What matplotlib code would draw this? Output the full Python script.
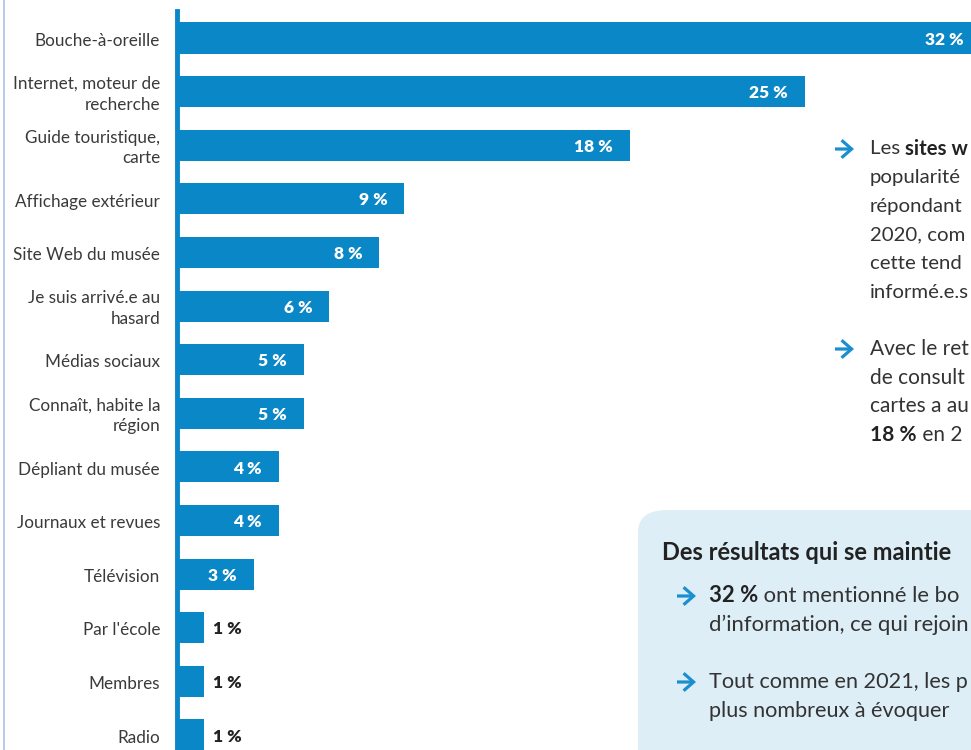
import matplotlib
matplotlib.use("Agg")
import matplotlib.pyplot as plt
from matplotlib.patches import FancyBboxPatch, FancyArrowPatch
import numpy as np

plt.rcParams['font.family'] = ['Lato', 'DejaVu Sans']

sources = ["Bouche-à-oreille", "Internet, moteur de\nrecherche", "Guide touristique,\ncarte",
           "Affichage extérieur", "Site Web du musée", "Je suis arrivé.e au\nhasard",
           "Médias sociaux", "Connaît, habite la\nrégion", "Dépliant du musée",
           "Journaux et revues", "Télévision", "Par l'école", "Membres", "Radio"]
pcts = [32, 25, 18, 9, 8, 6, 5, 5, 4, 4, 3, 1, 1, 1]

blue = '#0a87c6'
dark = '#222222'
grey = '#3a3a3a'

W, H = 971, 750
fig = plt.figure(figsize=(W / 100, H / 100), dpi=100)

# axes placed in pixel terms: x=0 at px 179, 25.04 px per percent
x0, ppx = 179, 25.04
ax = fig.add_axes([x0 / W, 0, 1 - x0 / W, (H - 11) / H])
ax.set_xlim(0, (W - x0) / ppx)
step = 53.6
ax.set_ylim(13 + 15 / step, -(38 - 11) / step)
ax.axis('off')

y = np.arange(len(pcts))
ax.barh(y, pcts, height=0.58, color=blue, clip_on=True)

for i, (lab, v) in enumerate(zip(sources, pcts)):
    ax.text(-19 / ppx, i + 0.05, lab, ha='right', va='center', fontsize=12.3,
            color=grey, linespacing=1.35)
    if v >= 3:
        ax.text(v - 17 / ppx, i + 0.03, f"{v} %", ha='right', va='center',
                fontsize=12.5, fontweight='heavy', color='white')
    else:
        ax.text(v + 9 / ppx, i + 0.03, f"{v} %", ha='left', va='center',
                fontsize=12.5, fontweight='heavy', color=dark)

# vertical axis line and thin left border
fig.add_artist(plt.Line2D([176.5 / W] * 2, [0, (H - 11) / H], color=blue, lw=3.5))
fig.add_artist(plt.Line2D([3.5 / W] * 2, [0, 1], color='#a9c1e6', lw=1.2))

# light-blue box
box = FancyBboxPatch((638 / W, -0.1), 0.5, (H - 510) / H + 0.1,
                     boxstyle="round,pad=0,rounding_size=0.03",
                     transform=fig.transFigure, fc='#ddeef7', ec='none', zorder=0)
fig.add_artist(box)

renderer = fig.canvas.get_renderer()
body = '#333333'


def draw_line(xpx, ypx, parts, size):
    x = xpx
    made = []
    for txt, bold in parts:
        t = fig.text(x / W, 1 - ypx / H, txt, fontsize=size, va='center', ha='left',
                     color=dark if bold else body,
                     fontweight='bold' if bold else 'normal')
        made.append(t)
        x += t.get_window_extent(renderer).width
    return made, x


def block(xpx, ypx, lines, size, gap=28.7):
    # one common size for the block, shrunk a little if a line would run off the page
    while size > 10:
        widest = 0
        for parts in lines:
            made, x = draw_line(xpx, ypx, parts, size)
            widest = max(widest, x)
            for t in made:
                t.remove()
        if widest <= W - 2:
            break
        size -= 0.1
    for k, parts in enumerate(lines):
        draw_line(xpx, ypx + k * gap, parts, size)


def arrow(xpx, ypx):
    fig.add_artist(FancyArrowPatch(
        (xpx / W, 1 - ypx / H), ((xpx + 19) / W, 1 - ypx / H),
        transform=fig.transFigure, arrowstyle='->,head_length=0.4,head_width=0.35',
        mutation_scale=18, lw=2.3, color='#1a8fd0', shrinkA=0, shrinkB=0,
        joinstyle='miter', capstyle='butt'))


arrow(835, 149)
block(870, 149, [[("Les ", False), ("sites w", True)],
                 [("popularité", False)],
                 [("répondant", False)],
                 [("2020, com", False)],
                 [("cette tend", False)],
                 [("informé.e.s", False)]], 15.8)

arrow(835, 349)
block(870, 349, [[("Avec le ret", False)],
                 [("de consult", False)],
                 [("cartes a au", False)],
                 [("18 %", True), (" en 2", False)]], 15.8)

fig.text(662 / W, 1 - 552 / H, "Des résultats qui se maintie", fontsize=17,
         fontweight='bold', color=dark, va='center', ha='left')
arrow(677, 596)
block(709, 596, [[("32 %", True), (" ont mentionné le bo", False)],
                 [("d’information, ce qui rejoin", False)]], 16)
arrow(677, 682)
block(709, 682, [[("Tout comme en 2021, les p", False)],
                 [("plus nombreux à évoquer", False)]], 16)

fig.savefig("out.png", dpi=100)
